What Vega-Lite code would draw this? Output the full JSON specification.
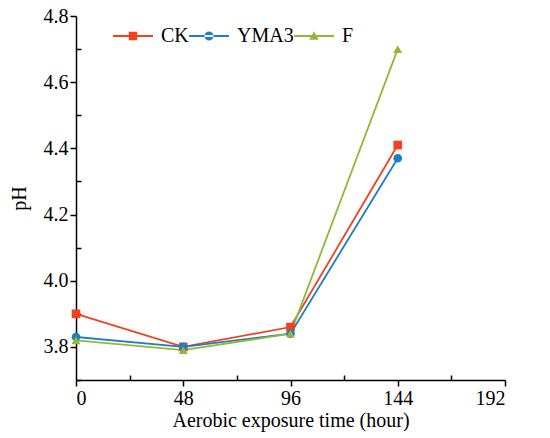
{
  "$schema": "https://vega.github.io/schema/vega-lite/v6.json",
  "autosize": "none",
  "width": 429,
  "height": 364,
  "padding": {"left": 76, "top": 16, "right": 45, "bottom": 58},
  "background": "white",
  "config": {
    "view": {"stroke": null},
    "font": "Liberation Serif",
    "axis": {"grid": false, "domainColor": "black", "domainWidth": 1.5, "tickColor": "black", "tickWidth": 1.5,
             "labelFont": "Liberation Serif", "titleFont": "Liberation Serif", "labelColor": "black", "titleColor": "black",
             "labelFontSize": 20, "titleFontSize": 20, "titleFontWeight": "normal"}
  },
  "data": {"values": [
    {"time": 0, "pH": 3.90, "group": "CK"},
    {"time": 48, "pH": 3.80, "group": "CK"},
    {"time": 96, "pH": 3.86, "group": "CK"},
    {"time": 144, "pH": 4.41, "group": "CK"},
    {"time": 0, "pH": 3.83, "group": "YMA3"},
    {"time": 48, "pH": 3.80, "group": "YMA3"},
    {"time": 96, "pH": 3.84, "group": "YMA3"},
    {"time": 144, "pH": 4.37, "group": "YMA3"},
    {"time": 0, "pH": 3.82, "group": "F"},
    {"time": 48, "pH": 3.79, "group": "F"},
    {"time": 96, "pH": 3.84, "group": "F"},
    {"time": 144, "pH": 4.70, "group": "F"}
  ]},
  "layer": [
    {
      "mark": {"type": "line", "strokeWidth": 1.8},
      "encoding": {
        "x": {"field": "time", "type": "quantitative", "scale": {"domain": [0, 192], "nice": false},
              "axis": {"values": [0, 48, 96, 144, 192], "tickSize": 6, "labelPadding": 2, "labelFont": "Liberation Serif",
                       "title": "Aerobic exposure time (hour)", "titlePadding": 2}},
        "y": {"field": "pH", "type": "quantitative", "scale": {"domain": [3.7, 4.8], "nice": false, "zero": false},
              "axis": {"values": [3.8, 4.0, 4.2, 4.4, 4.6, 4.8], "format": ".1f", "tickSize": 6, "labelPadding": 2, "labelFont": "Liberation Serif",
                       "title": "pH", "titlePadding": 14}},
        "color": {"field": "group", "type": "nominal", "sort": ["CK", "YMA3", "F"],
                  "scale": {"domain": ["CK", "YMA3", "F"], "range": ["#F4401E", "#1B7FC2", "#94B73A"]},
                  "legend": {"title": null, "orient": "none", "direction": "horizontal", "legendX": 37, "legendY": 10,
                             "labelFontSize": 20, "labelFont": "Liberation Serif", "labelColor": "black",
                             "symbolSize": 400, "symbolStrokeWidth": 0, "symbolOffset": 10, "labelOffset": 18, "columnPadding": 0,
                             "encode": {"symbols": {"update": {
                               "shape": {"signal": "datum.value === 'CK' ? 'M-2,-0.1H2V0.1H-2Z M-0.42,-0.42H0.42V0.42H-0.42Z' : datum.value === 'YMA3' ? 'M-2,-0.1H2V0.1H-2Z M-0.45,0A0.45,0.45 0 1,0 0.45,0A0.45,0.45 0 1,0 -0.45,0Z' : 'M-2,-0.1H2V0.1H-2Z M0,-0.48L0.48,0.38L-0.48,0.38Z'"},
                               "strokeWidth": {"value": 0}
                             }}}}},
        "detail": {"field": "group"}
      }
    },
    {
      "transform": [{"filter": "datum.group === 'CK'"}],
      "mark": {"type": "point", "filled": true, "opacity": 1, "size": 75, "shape": "square"},
      "encoding": {
        "x": {"field": "time", "type": "quantitative", "axis": null},
        "y": {"field": "pH", "type": "quantitative", "axis": null},
        "color": {"field": "group", "type": "nominal", "sort": ["CK", "YMA3", "F"]}
      }
    },
    {
      "transform": [{"filter": "datum.group === 'YMA3'"}],
      "mark": {"type": "point", "filled": true, "opacity": 1, "size": 75, "shape": "circle"},
      "encoding": {
        "x": {"field": "time", "type": "quantitative", "axis": null},
        "y": {"field": "pH", "type": "quantitative", "axis": null},
        "color": {"field": "group", "type": "nominal", "sort": ["CK", "YMA3", "F"]}
      }
    },
    {
      "transform": [{"filter": "datum.group === 'F'"}],
      "mark": {"type": "point", "filled": true, "opacity": 1, "size": 80, "shape": "triangle-up"},
      "encoding": {
        "x": {"field": "time", "type": "quantitative", "axis": null},
        "y": {"field": "pH", "type": "quantitative", "axis": null},
        "color": {"field": "group", "type": "nominal", "sort": ["CK", "YMA3", "F"]}
      }
    },
    {
      "mark": {"type": "point", "opacity": 0},
      "encoding": {
        "x": {"field": "time", "type": "quantitative",
              "axis": {"orient": "bottom", "values": [24, 72, 120, 168], "tickSize": -5, "labels": false, "domain": false, "title": null}},
        "y": {"field": "pH", "type": "quantitative",
              "axis": {"orient": "left", "values": [3.7, 3.9, 4.1, 4.3, 4.5, 4.7], "tickSize": -5, "labels": false, "domain": false, "title": null}}
      }
    }
  ],
  "resolve": {"axis": {"x": "independent", "y": "independent"}}
}
